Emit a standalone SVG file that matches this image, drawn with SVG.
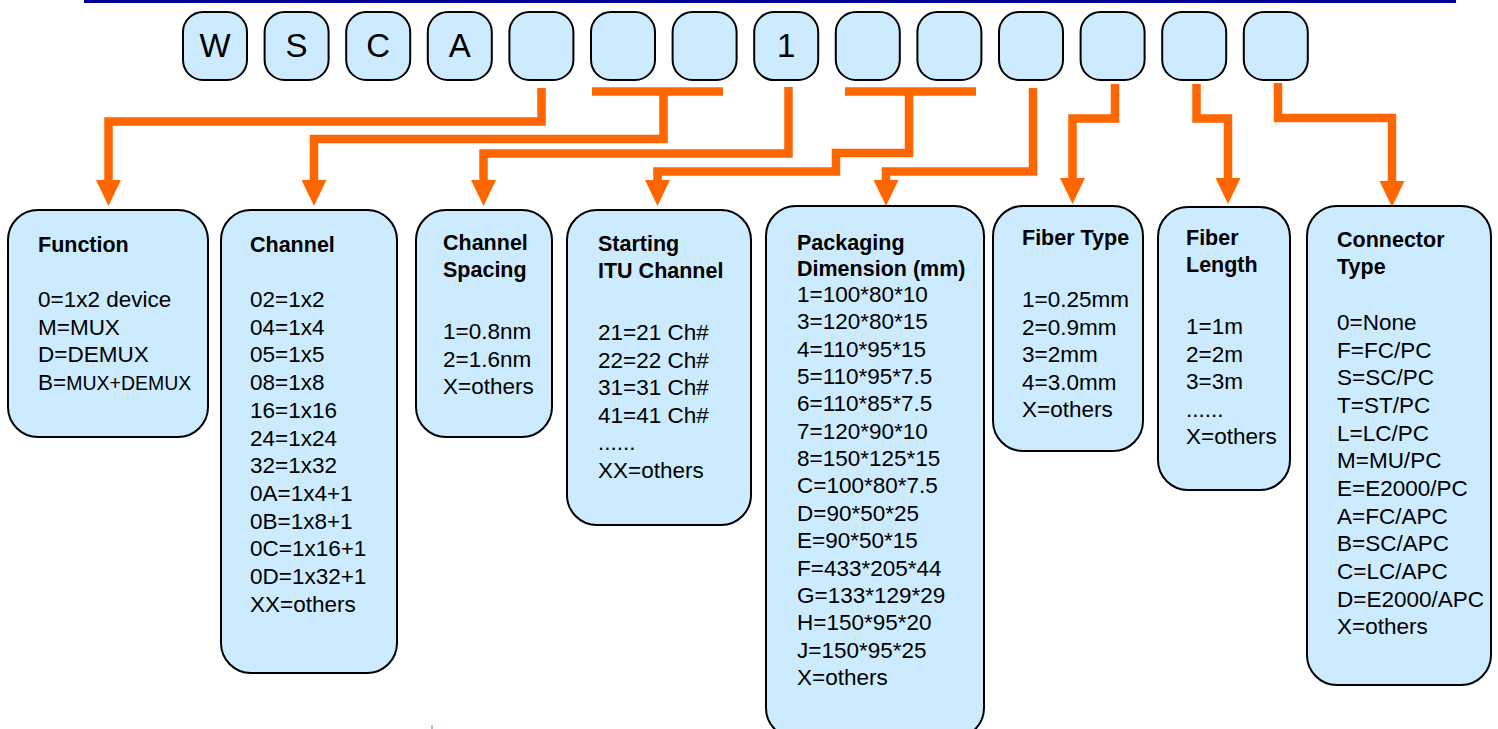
<svg xmlns="http://www.w3.org/2000/svg" width="1498" height="729" viewBox="0 0 1498 729">
<style>
.cell{fill:#CCEBFF;stroke:#000;stroke-width:2}
.box{fill:#CCEBFF;stroke:#000;stroke-width:2}
.let{font-family:"Liberation Sans",Arial,sans-serif;font-size:33px;fill:#000;text-anchor:middle}
.ttl{font-family:"Liberation Sans",Arial,sans-serif;font-size:21.5px;font-weight:bold;fill:#000}
.txt{font-family:"Liberation Sans",Arial,sans-serif;font-size:22.5px;fill:#000}
.sm{font-size:19.5px}
.con{fill:none;stroke:#FF6600;stroke-width:8.5;stroke-linejoin:miter;stroke-linecap:butt}
</style>
<defs>
<marker id="ah" markerUnits="userSpaceOnUse" markerWidth="26" markerHeight="25" viewBox="0 0 26 25" refX="0" refY="12.5" orient="auto">
<path d="M0,0 L26,12.5 L0,25 z" fill="#FF6600"/>
</marker>
</defs>
<rect x="84" y="0" width="1372" height="3" fill="#000099"/>
<line x1="432" y1="725" x2="432" y2="729" stroke="#5577cc" stroke-width="1"/>
<g id="code">
<g id="c1"><rect class="cell" x="183" y="12" width="64" height="68" rx="20"/><text class="let" x="215" y="57">W</text></g>
<g id="c2"><rect class="cell" x="264.6" y="12" width="64" height="68" rx="20"/><text class="let" x="296.6" y="57">S</text></g>
<g id="c3"><rect class="cell" x="346.2" y="12" width="64" height="68" rx="20"/><text class="let" x="378.2" y="57">C</text></g>
<g id="c4"><rect class="cell" x="427.8" y="12" width="64" height="68" rx="20"/><text class="let" x="459.8" y="57">A</text></g>
<g id="c5"><rect class="cell" x="509.4" y="12" width="64" height="68" rx="20"/></g>
<g id="c6"><rect class="cell" x="591" y="12" width="64" height="68" rx="20"/></g>
<g id="c7"><rect class="cell" x="672.6" y="12" width="64" height="68" rx="20"/></g>
<g id="c8"><rect class="cell" x="754.2" y="12" width="64" height="68" rx="20"/><text class="let" x="786.2" y="57">1</text></g>
<g id="c9"><rect class="cell" x="835.8" y="12" width="64" height="68" rx="20"/></g>
<g id="c10"><rect class="cell" x="917.4" y="12" width="64" height="68" rx="20"/></g>
<g id="c11"><rect class="cell" x="999" y="12" width="64" height="68" rx="20"/></g>
<g id="c12"><rect class="cell" x="1080.6" y="12" width="64" height="68" rx="20"/></g>
<g id="c13"><rect class="cell" x="1162.2" y="12" width="64" height="68" rx="20"/></g>
<g id="c14"><rect class="cell" x="1243.8" y="12" width="64" height="68" rx="20"/></g>
</g>
<g id="connectors">
<path class="con" d="M541.5,88 V121.5 H108.5 V180" marker-end="url(#ah)"/>
<path class="con" d="M592,91.5 H723"/>
<path class="con" d="M663.5,91.5 V139 H314 V180" marker-end="url(#ah)"/>
<path class="con" d="M788.5,87 V153.5 H483.5 V180" marker-end="url(#ah)"/>
<path class="con" d="M845,91.5 H976"/>
<path class="con" d="M909,91.5 V153 H836 V171.5 H657.5 V180" marker-end="url(#ah)"/>
<path class="con" d="M1033,88 V171.5 H886 V180" marker-end="url(#ah)"/>
<path class="con" d="M1115,84 V118.5 H1072.5 V178" marker-end="url(#ah)"/>
<path class="con" d="M1196.5,84 V118.5 H1228 V178" marker-end="url(#ah)"/>
<path class="con" d="M1278,83 V118 H1392 V181" marker-end="url(#ah)"/>
</g>
<g id="function">
<rect class="box" x="8" y="210" width="200" height="227" rx="30"/>
<text class="ttl" x="38" y="252">Function</text>
<text class="txt" x="38" y="307">0=1x2 device</text>
<text class="txt" x="38" y="335">M=MUX</text>
<text class="txt" x="38" y="362">D=DEMUX</text>
<text class="txt" x="38" y="390">B=<tspan class="sm">MUX+DEMUX</tspan></text>
</g>
<g id="channel">
<rect class="box" x="221" y="210" width="176" height="463" rx="30"/>
<text class="ttl" x="250" y="252">Channel</text>
<text class="txt" x="250" y="307">02=1x2</text>
<text class="txt" x="250" y="334.7">04=1x4</text>
<text class="txt" x="250" y="362.4">05=1x5</text>
<text class="txt" x="250" y="390.1">08=1x8</text>
<text class="txt" x="250" y="417.8">16=1x16</text>
<text class="txt" x="250" y="445.5">24=1x24</text>
<text class="txt" x="250" y="473.2">32=1x32</text>
<text class="txt" x="250" y="500.9">0A=1x4+1</text>
<text class="txt" x="250" y="528.6">0B=1x8+1</text>
<text class="txt" x="250" y="556.3">0C=1x16+1</text>
<text class="txt" x="250" y="584">0D=1x32+1</text>
<text class="txt" x="250" y="611.7">XX=others</text>
</g>
<g id="spacing">
<rect class="box" x="416" y="210" width="136" height="227" rx="30"/>
<text class="ttl" x="443" y="250">Channel</text>
<text class="ttl" x="443" y="277">Spacing</text>
<text class="txt" x="443" y="339">1=0.8nm</text>
<text class="txt" x="443" y="366.7">2=1.6nm</text>
<text class="txt" x="443" y="394.4">X=others</text>
</g>
<g id="itu">
<rect class="box" x="567" y="210" width="184" height="315" rx="30"/>
<text class="ttl" x="598" y="251">Starting</text>
<text class="ttl" x="598" y="278">ITU Channel</text>
<text class="txt" x="598" y="340">21=21 Ch#</text>
<text class="txt" x="598" y="367.6">22=22 Ch#</text>
<text class="txt" x="598" y="395.2">31=31 Ch#</text>
<text class="txt" x="598" y="422.8">41=41 Ch#</text>
<text class="txt" x="598" y="450.4">......</text>
<text class="txt" x="598" y="478">XX=others</text>
</g>
<g id="packaging">
<rect class="box" x="766" y="206" width="218" height="532" rx="30"/>
<text class="ttl" x="797" y="250">Packaging</text>
<text class="ttl" x="797" y="276">Dimension (mm)</text>
<text class="txt" x="797" y="302">1=100*80*10</text>
<text class="txt" x="797" y="329.35">3=120*80*15</text>
<text class="txt" x="797" y="356.7">4=110*95*15</text>
<text class="txt" x="797" y="384.05">5=110*95*7.5</text>
<text class="txt" x="797" y="411.4">6=110*85*7.5</text>
<text class="txt" x="797" y="438.75">7=120*90*10</text>
<text class="txt" x="797" y="466.1">8=150*125*15</text>
<text class="txt" x="797" y="493.45">C=100*80*7.5</text>
<text class="txt" x="797" y="520.8">D=90*50*25</text>
<text class="txt" x="797" y="548.15">E=90*50*15</text>
<text class="txt" x="797" y="575.5">F=433*205*44</text>
<text class="txt" x="797" y="602.85">G=133*129*29</text>
<text class="txt" x="797" y="630.2">H=150*95*20</text>
<text class="txt" x="797" y="657.55">J=150*95*25</text>
<text class="txt" x="797" y="684.9">X=others</text>
</g>
<g id="fibertype">
<rect class="box" x="993" y="206" width="150" height="245" rx="30"/>
<text class="ttl" x="1022" y="245">Fiber Type</text>
<text class="txt" x="1022" y="307">1=0.25mm</text>
<text class="txt" x="1022" y="334.5">2=0.9mm</text>
<text class="txt" x="1022" y="362">3=2mm</text>
<text class="txt" x="1022" y="389.5">4=3.0mm</text>
<text class="txt" x="1022" y="417">X=others</text>
</g>
<g id="fiberlength">
<rect class="box" x="1158" y="207" width="132" height="283" rx="30"/>
<text class="ttl" x="1186" y="245">Fiber</text>
<text class="ttl" x="1186" y="272">Length</text>
<text class="txt" x="1186" y="334">1=1m</text>
<text class="txt" x="1186" y="361.5">2=2m</text>
<text class="txt" x="1186" y="389">3=3m</text>
<text class="txt" x="1186" y="416.5">......</text>
<text class="txt" x="1186" y="444">X=others</text>
</g>
<g id="connector">
<rect class="box" x="1307" y="206" width="184" height="479" rx="30"/>
<text class="ttl" x="1337" y="247">Connector</text>
<text class="ttl" x="1337" y="274">Type</text>
<text class="txt" x="1337" y="330">0=None</text>
<text class="txt" x="1337" y="357.6">F=FC/PC</text>
<text class="txt" x="1337" y="385.3">S=SC/PC</text>
<text class="txt" x="1337" y="412.9">T=ST/PC</text>
<text class="txt" x="1337" y="440.6">L=LC/PC</text>
<text class="txt" x="1337" y="468.2">M=MU/PC</text>
<text class="txt" x="1337" y="495.9">E=E2000/PC</text>
<text class="txt" x="1337" y="523.5">A=FC/APC</text>
<text class="txt" x="1337" y="551.2">B=SC/APC</text>
<text class="txt" x="1337" y="578.8">C=LC/APC</text>
<text class="txt" x="1337" y="606.5">D=E2000/APC</text>
<text class="txt" x="1337" y="634">X=others</text>
</g>
</svg>
